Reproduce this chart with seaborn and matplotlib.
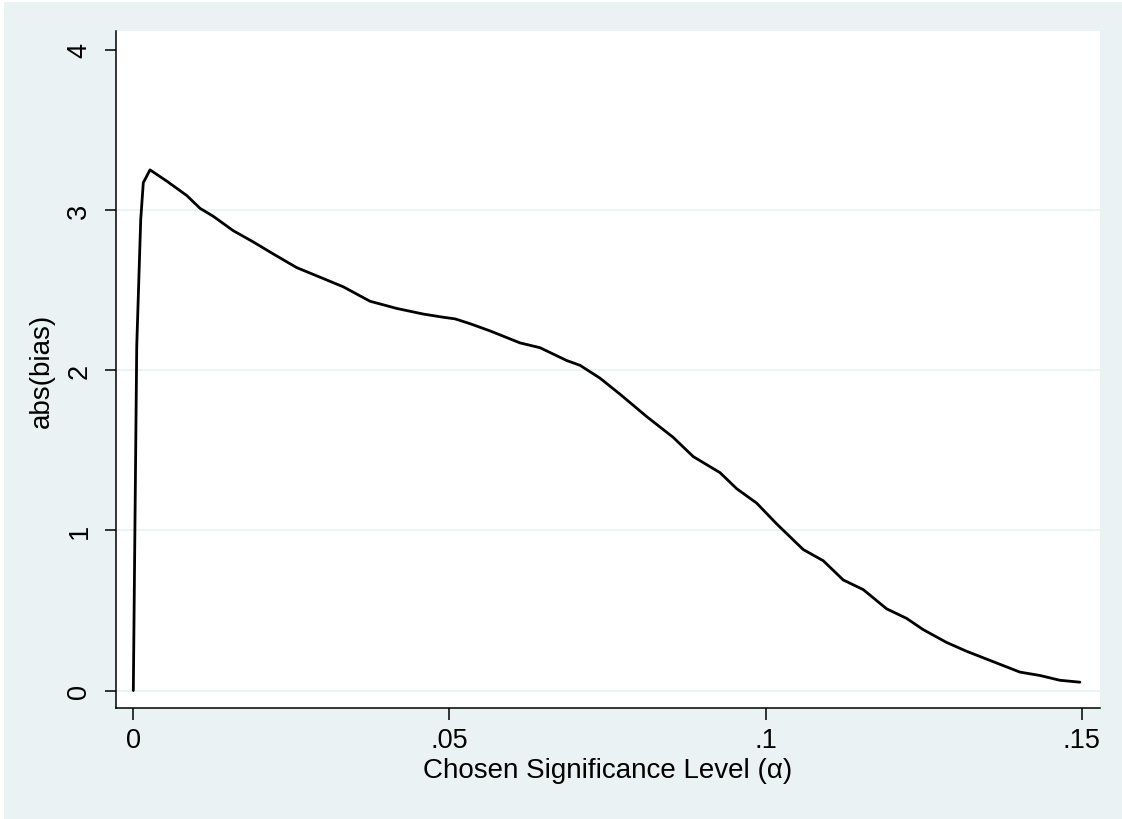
import matplotlib
matplotlib.use("Agg")
import matplotlib.pyplot as plt
import seaborn as sns
import pandas as pd
from matplotlib.patches import Rectangle

# ---- data ----
alpha = [0.0, 0.00030, 0.00054, 0.00117, 0.00158, 0.00264, 0.00528, 0.00845,
         0.01055, 0.01265, 0.01582, 0.01898, 0.02214, 0.02584, 0.02953,
         0.03321, 0.03744, 0.04166, 0.04586, 0.04903, 0.05088, 0.05325,
         0.05641, 0.06116, 0.06432, 0.06854, 0.07065, 0.07381, 0.07697,
         0.08120, 0.08540, 0.08857, 0.09280, 0.09543, 0.09859, 0.10176,
         0.10596, 0.10913, 0.11229, 0.11545, 0.11915, 0.12232, 0.12494,
         0.12864, 0.13180, 0.13601, 0.14023, 0.14339, 0.14655, 0.14972]
abs_bias = [0.0, 1.20, 2.15, 2.94, 3.17, 3.25, 3.18, 3.09,
            3.01, 2.96, 2.87, 2.80, 2.725, 2.64, 2.58,
            2.52, 2.43, 2.385, 2.35, 2.33, 2.32, 2.29,
            2.245, 2.17, 2.14, 2.06, 2.03, 1.95, 1.85,
            1.71, 1.58, 1.46, 1.36, 1.26, 1.17, 1.04,
            0.88, 0.81, 0.69, 0.63, 0.51, 0.45, 0.38,
            0.30, 0.245, 0.18, 0.115, 0.094, 0.064, 0.052]
x_ticks = [0, 0.05, 0.10, 0.15]
x_tick_labels = ["0", ".05", ".1", ".15"]
y_ticks = [0, 1, 2, 3, 4]
y_tick_labels = ["0", "1", "2", "3", "4"]
grid_levels = [0, 1, 2, 3]
x_label = "Chosen Significance Level (α)"
y_label = "abs(bias)"

df = pd.DataFrame({"alpha": alpha, "abs_bias": abs_bias})

sns.set_style("white")
plt.rcParams["font.family"] = ["Liberation Sans", "DejaVu Sans"]
plt.rcParams["text.color"] = "black"
plt.rcParams["axes.labelcolor"] = "black"
plt.rcParams["xtick.color"] = "black"
plt.rcParams["ytick.color"] = "black"

BG = "#EAF2F3"
fig = plt.figure(figsize=(11.22, 8.2), dpi=100, facecolor=BG)
# thin white margins at top and left, as in the reference
fig.patches.append(Rectangle((0, 1 - 3 / 820), 1, 3 / 820, transform=fig.transFigure,
                             facecolor="white", edgecolor="none", zorder=-10))
fig.patches.append(Rectangle((0, 0), 4 / 1122, 1, transform=fig.transFigure,
                             facecolor="white", edgecolor="none", zorder=-10))

ax = fig.add_axes([116 / 1122, 1 - 709.3 / 820, (1100 - 116) / 1122, (709.3 - 32.3) / 820])
ax.set_facecolor("white")

for g in grid_levels:
    ax.axhline(g, color=BG, lw=1.3, zorder=0)

sns.lineplot(data=df, x="alpha", y="abs_bias", ax=ax, color="black", lw=2.0,
             estimator=None, sort=False)
ax.lines[-1].set_solid_joinstyle("round")

ax.set_xlim(-0.00274, 0.1529)
ax.set_ylim(-0.111, 4.115)

ax.set_xticks(x_ticks)
ax.set_xticklabels(x_tick_labels, fontsize=19.5)
ax.set_yticks(y_ticks)
ax.set_yticklabels(y_tick_labels, fontsize=19.5, rotation=90, va="center")

ax.tick_params(axis="x", length=8.5, width=1.1, colors="black", pad=5, direction="out", bottom=True)
ax.tick_params(axis="y", length=8, width=1.1, colors="black", pad=9, direction="out", left=True)

for s in ["top", "right"]:
    ax.spines[s].set_visible(False)
for s in ["left", "bottom"]:
    ax.spines[s].set_visible(True)
    ax.spines[s].set_color("black")
    ax.spines[s].set_linewidth(1.1)

ax.set_xlabel(x_label, fontsize=20, labelpad=3, color="black")
ax.set_ylabel(y_label, fontsize=20, labelpad=8, color="black")

fig.savefig("out.png", dpi=100, facecolor=fig.get_facecolor())
